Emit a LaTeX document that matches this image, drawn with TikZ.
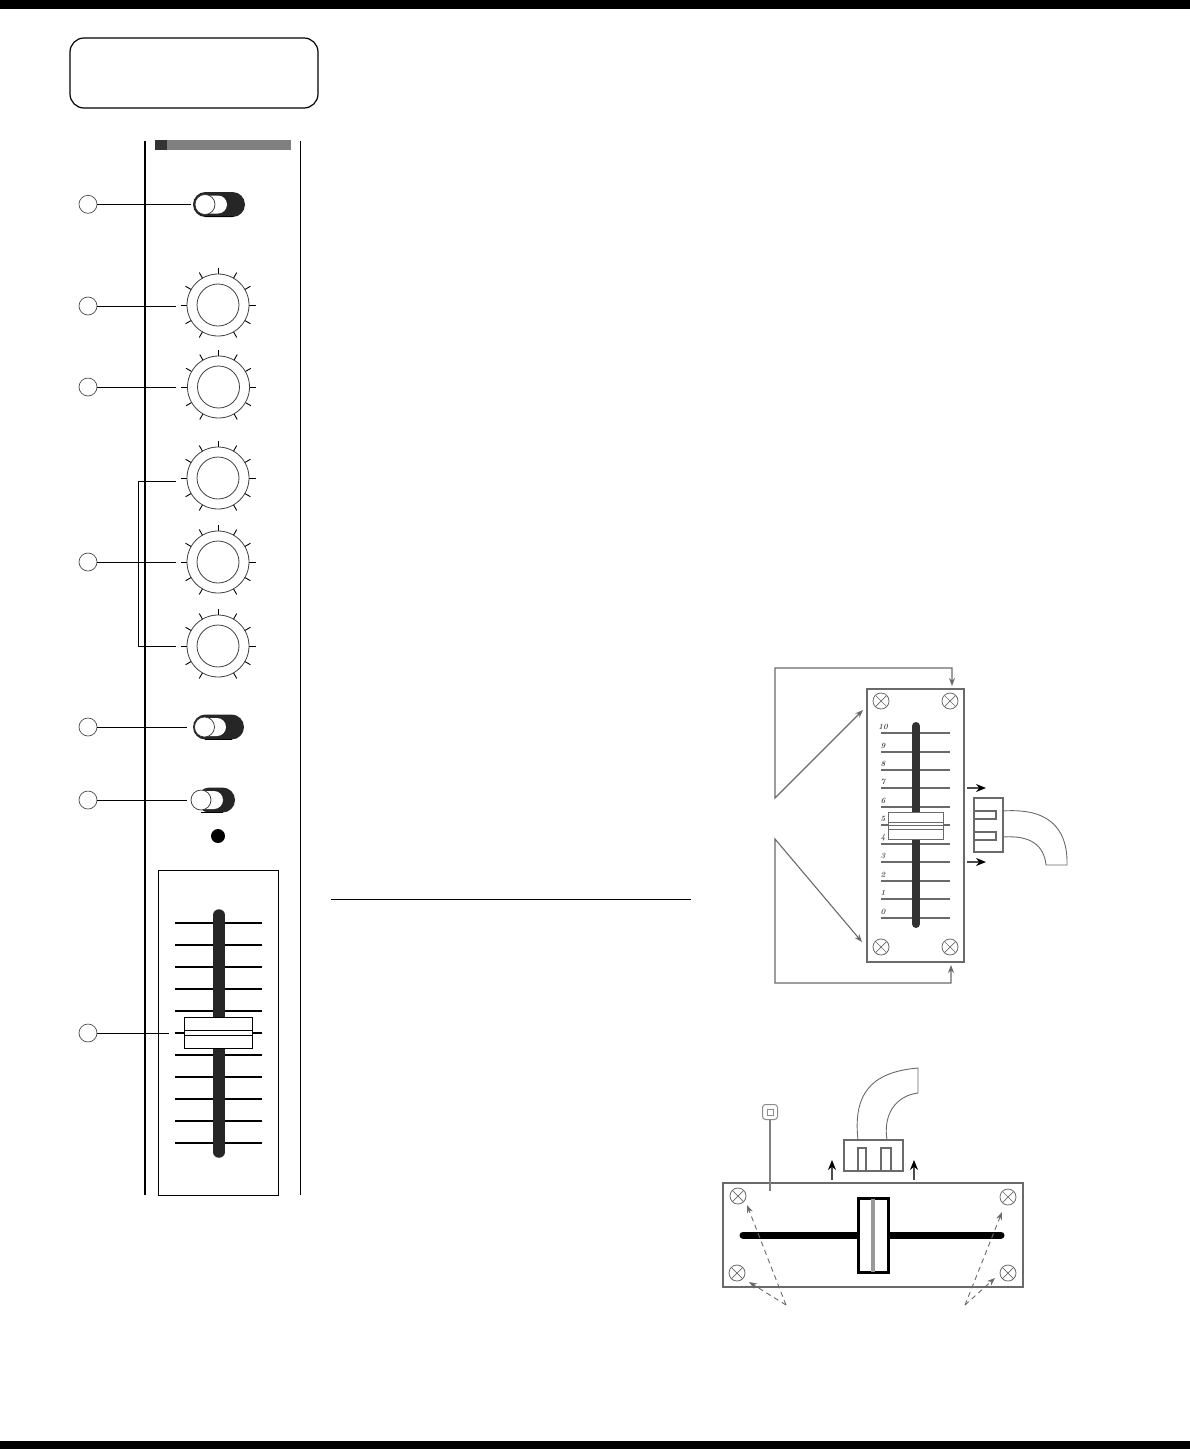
\documentclass[tikz,border=0pt]{standalone}
\usetikzlibrary{arrows.meta,calc}
\definecolor{swdark}{HTML}{262626}
\definecolor{phgray}{HTML}{6A6A6A}
\tikzset{
  callout/.style={circle,draw=black!70,line width=0.7pt,fill=white,minimum size=18pt,inner sep=0pt},
  lead/.style={line width=0.85pt,black},
  tickmark/.style={line width=0.9pt,black},
  photo/.style={phgray,line width=1.1pt},
  photoboth/.style={photo,{Stealth[length=8pt,width=6pt]}-{Stealth[length=8pt,width=6pt]}},
  blockarrow/.style={black!70,line width=1.4pt,-{Stealth[length=10pt,width=8pt,black]}},
  dasharrow/.style={phgray,line width=0.9pt,dash pattern=on 5pt off 4pt,-{Stealth[length=8pt,width=6pt]}},
  screw/.style={circle,draw=phgray,line width=0.8pt,fill=white,minimum size=16pt,inner sep=0pt,path picture={
     \draw[phgray,line width=0.7pt] ($(path picture bounding box.north west)+(2.5pt,-2.5pt)$) -- ($(path picture bounding box.south east)+(-2.5pt,2.5pt)$);
     \draw[phgray,line width=0.7pt] ($(path picture bounding box.north east)+(-2.5pt,-2.5pt)$) -- ($(path picture bounding box.south west)+(2.5pt,2.5pt)$);}},
  scalenum/.style={font=\bfseries\itshape\fontsize{8}{8}\selectfont,text=black!70,inner sep=0pt},
}
% #1 name, #2 x, #3 y
\newcommand{\knobat}[3]{%
  \foreach \a in {0,30,60,90,120,150,180,210,240,300,330}{
    \draw[tickmark] ({#2+31*cos(\a)},{#3-31*sin(\a)}) -- ({#2+37.5*cos(\a)},{#3-37.5*sin(\a)});
  }
  \node[circle,draw=black!75,line width=0.8pt,minimum size=62pt,inner sep=0pt] (#1) at (#2,#3) {};
  \node[circle,draw=black!75,line width=0.8pt,minimum size=42pt,inner sep=0pt] (#1in) at (#2,#3) {};
}
% #1 name, #2 left, #3 right, #4 y, #5 circle x, #6 pill right
\newcommand{\switchat}[6]{%
  \fill[swdark,rounded corners=12.5pt] (#2,#4-12.5) rectangle (#3,#4+12.5);
  \draw[black,line width=1pt] (#5,#4+12) -- (#3-12,#4+12);
  \fill[white,rounded corners=9pt] (#5-9,#4-9) rectangle (#6,#4+9);
  \node[circle,draw=black!80,line width=0.7pt,fill=white,minimum size=20pt,inner sep=0pt] (#1) at (#5,#4) {};
}
\begin{document}
\begin{tikzpicture}[x=1pt,y=-1pt]
\useasboundingbox (0,0) rectangle (1190,1449);
\fill[white] (0,0) rectangle (1190,1449);
\fill[black] (0,0) rectangle (1190,9);
\fill[black] (0,1441) rectangle (1190,1449);
\draw[black,line width=1.2pt,rounded corners=14pt] (70,38) rectangle (318,108);
% panel
\draw[black,line width=2.6pt] (145,141) -- (145,1195);
\draw[black,line width=1pt] (300.3,141) -- (300.3,1195);
\fill[black!50] (155,140) rectangle (291,150);
\fill[black!80] (155,140) rectangle (167,150);
% knobs & switches
\switchat{swa}{193}{245}{204.5}{205}{227}
\knobat{ka}{218}{305}
\knobat{kb}{218.5}{387}
\knobat{kc}{218}{478}
\knobat{kd}{218}{562}
\knobat{ke}{218}{646}
\switchat{swb}{193}{244}{727}{204.5}{226}
\switchat{swc}{197}{235}{800}{201}{223}
\node[circle,fill=black,minimum size=14pt,inner sep=0pt] (led) at (218,836) {};
% fader
\node[draw=black,line width=0.9pt,minimum width=120pt,minimum height=325pt,inner sep=0pt] (fbox) at (218.3,1032.5) {};
\foreach \yy in {923,945,967,989,1011,1033,1055,1077,1099,1121,1143}
  \draw[black,line width=1.4pt] (175,\yy) -- (262,\yy);
\draw[swdark,line width=11.5pt,line cap=round] (219,915) -- (219,1152);
\node[draw=black,line width=0.8pt,fill=white,minimum width=68pt,minimum height=31pt,inner sep=0pt] (fcap) at (218.5,1032.5) {};
\draw[black,line width=0.8pt] (184.5,1030) -- (252.5,1030) (184.5,1035) -- (252.5,1035);
% callouts
\node[callout] (c1) at (88,204.3) {};
\node[callout] (c2) at (88,306) {};
\node[callout] (c3) at (88,387) {};
\node[callout] (c4) at (88,562) {};
\node[callout] (c5) at (88,727) {};
\node[callout] (c6) at (88,800) {};
\node[callout] (c7) at (88,1033) {};
\coordinate (e1) at (191,204.3);
\coordinate (e2) at (176,306);
\coordinate (e3) at (176,387);
\coordinate (e4) at (176,562);
\coordinate (e5) at (187,727);
\coordinate (e6) at (187,800);
\coordinate (e7) at (169,1033);
\coordinate (b1) at (176,481);
\coordinate (b2) at (176,646);
\foreach \i in {1,...,7} \draw[lead] (c\i) -- (e\i);
\draw[lead] (b1) -- (138,481) -- (138,646) -- (b2);
% rule
\draw[black,line width=1pt] (331,899) -- (691,899);
% ---- upper photo ----
\node[draw=phgray,line width=1.2pt,minimum width=97pt,minimum height=273pt,inner sep=0pt] (plate) at (915.5,825.5) {};
\node[screw] (s1) at (881,701) {};
\node[screw] (s2) at (950,701) {};
\node[screw] (s3) at (881,947) {};
\node[screw] (s4) at (950,947) {};
\foreach \yy/\lab in {733/10,752/9,770/8,788/7,807/6,825/5,844/4,862/3,881/2,899/1,918/0}{
  \draw[phgray,line width=1.2pt] (881,\yy) -- (950,\yy);
  \node[scalenum] at (883,\yy-6.5) {\lab};
}
\draw[black!80,line width=8pt,line cap=round] (916,726) -- (916,924);
\node[draw=phgray,line width=1pt,fill=white,minimum width=55pt,minimum height=27pt,inner sep=0pt] (pcap) at (915.5,825.5) {};
\draw[phgray,line width=0.9pt] (888,822) -- (943,822) (888,829) -- (943,829);
\draw[phgray,line width=0.9pt] (881,825.5) -- (950,825.5);
\coordinate (u1) at (952,686);
\coordinate (u2) at (863,710);
\coordinate (u3) at (951,965);
\coordinate (u4) at (862,942);
\draw[photoboth] (u1) -- (952,668) -- (775,668) -- (775,798) -- (u2);
\draw[photoboth] (u3) -- (951,983) -- (775,983) -- (775,839) -- (u4);
\node[draw=phgray,line width=1.1pt,minimum width=29pt,minimum height=54pt,inner sep=0pt] (plug) at (988.5,825) {};
\draw[phgray,line width=1.2pt] (974,811) -- (996,811) -- (996,819) -- (974,819);
\draw[phgray,line width=1.2pt] (974,832) -- (996,832) -- (996,840) -- (974,840);
\draw[phgray,line width=0.9pt] (1003,811) .. controls (1045,808) and (1068,825) .. (1067,865) -- (1046,865) .. controls (1044,845) and (1030,835) .. (1003,837);
\coordinate (ra1) at (967,788); \coordinate (ra2) at (986,788);
\coordinate (rb1) at (967,862); \coordinate (rb2) at (986,862);
\draw[blockarrow] (ra1) -- (ra2);
\draw[blockarrow] (rb1) -- (rb2);
% ---- lower photo ----
\node[draw=phgray,line width=1.1pt,minimum width=300pt,minimum height=104pt,inner sep=0pt] (hplate) at (873,1235) {};
\node[screw] (h1) at (738,1196) {};
\node[screw] (h2) at (1008,1197) {};
\node[screw] (h3) at (737,1273) {};
\node[screw] (h4) at (1008,1273) {};
\draw[black,line width=7pt,line cap=round] (743,1235) -- (1001,1235);
\node[draw=black,line width=3pt,fill=white,minimum width=30pt,minimum height=74pt,inner sep=0pt] (hcap) at (873,1235) {};
\draw[black!40,line width=4pt] (873,1198.5) -- (873,1271.5);
\node[draw=black!45,line width=1pt,rounded corners=3pt,minimum size=15pt,inner sep=0pt] (tag) at (770,1112) {};
\node[draw=black!45,line width=0.8pt,minimum size=6pt,inner sep=0pt] (taginner) at (770,1112) {};
\coordinate (tagend) at (770,1191);
\draw[black!50,line width=1.1pt] (tag) -- (tagend);
\node[draw=phgray,line width=1.1pt,minimum width=59pt,minimum height=31pt,inner sep=0pt] (hplug) at (873.5,1155.5) {};
\draw[phgray,line width=1.2pt] (858,1171) -- (858,1148) -- (866,1148) -- (866,1171);
\draw[phgray,line width=1.2pt] (881,1171) -- (881,1148) -- (891,1148) -- (891,1171);
\draw[phgray,line width=0.9pt] (858,1140) .. controls (853,1095) and (870,1072) .. (918,1068) -- (918,1093) .. controls (895,1096) and (883,1115) .. (887,1140);
\coordinate (ha1) at (832,1180); \coordinate (ha2) at (832,1160);
\coordinate (hb1) at (914,1180); \coordinate (hb2) at (914,1160);
\draw[blockarrow] (ha1) -- (ha2);
\draw[blockarrow] (hb1) -- (hb2);
\coordinate (dl) at (786,1305);
\coordinate (dr) at (965,1305);
\coordinate (dl1) at (747,1205);
\coordinate (dl2) at (749,1282);
\coordinate (dr1) at (1002,1212);
\coordinate (dr2) at (995,1278);
\draw[dasharrow] (dl) -- (dl1);
\draw[dasharrow] (dl) -- (dl2);
\draw[dasharrow] (dr) -- (dr1);
\draw[dasharrow] (dr) -- (dr2);
\end{tikzpicture}
\end{document}
